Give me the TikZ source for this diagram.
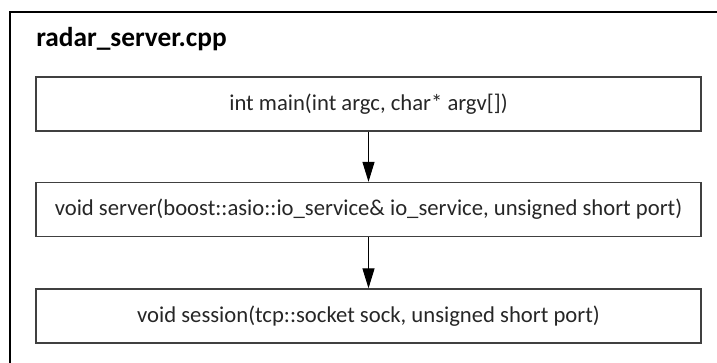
\documentclass[tikz,border=0pt]{standalone}
\usepackage{fontspec}
\setmainfont{Carlito}
\usetikzlibrary{arrows.meta}
\definecolor{linegray}{HTML}{404040}
\definecolor{textgray}{HTML}{262626}
\begin{document}
\begin{tikzpicture}[x=0.75pt,y=-0.75pt,
  funcbox/.style={draw=linegray,line width=1pt,minimum width=665*0.75pt,minimum height=54*0.75pt,inner sep=0pt,font=\fontsize{17pt}{20pt}\selectfont,text=textgray},
  callarrow/.style={draw=black,line width=0.9pt,-{Triangle[length=15pt,width=9pt]}}]
\useasboundingbox (0,0) rectangle (717,362);
\begin{scope}
\clip (0,0) rectangle (717,362);
\draw[black,line width=1pt] (10,12) rectangle (740,380);
\end{scope}
\node[anchor=base west,font=\bfseries\fontsize{20.5pt}{24pt}\selectfont,text=black,inner sep=0pt] (title) at (36,46) {radar\_server.cpp};
\node[funcbox] (main) at (368.5,104) {int main(int argc, char* argv[])};
\node[funcbox] (server) at (368.5,209.5) {void server(boost::asio::io\_service\& io\_service, unsigned short port)};
\node[funcbox] (session) at (368.5,316) {void session(tcp::socket sock, unsigned short port)};
\draw[callarrow] (main) -- (server);
\draw[callarrow] (server) -- (session);
\end{tikzpicture}
\end{document}
